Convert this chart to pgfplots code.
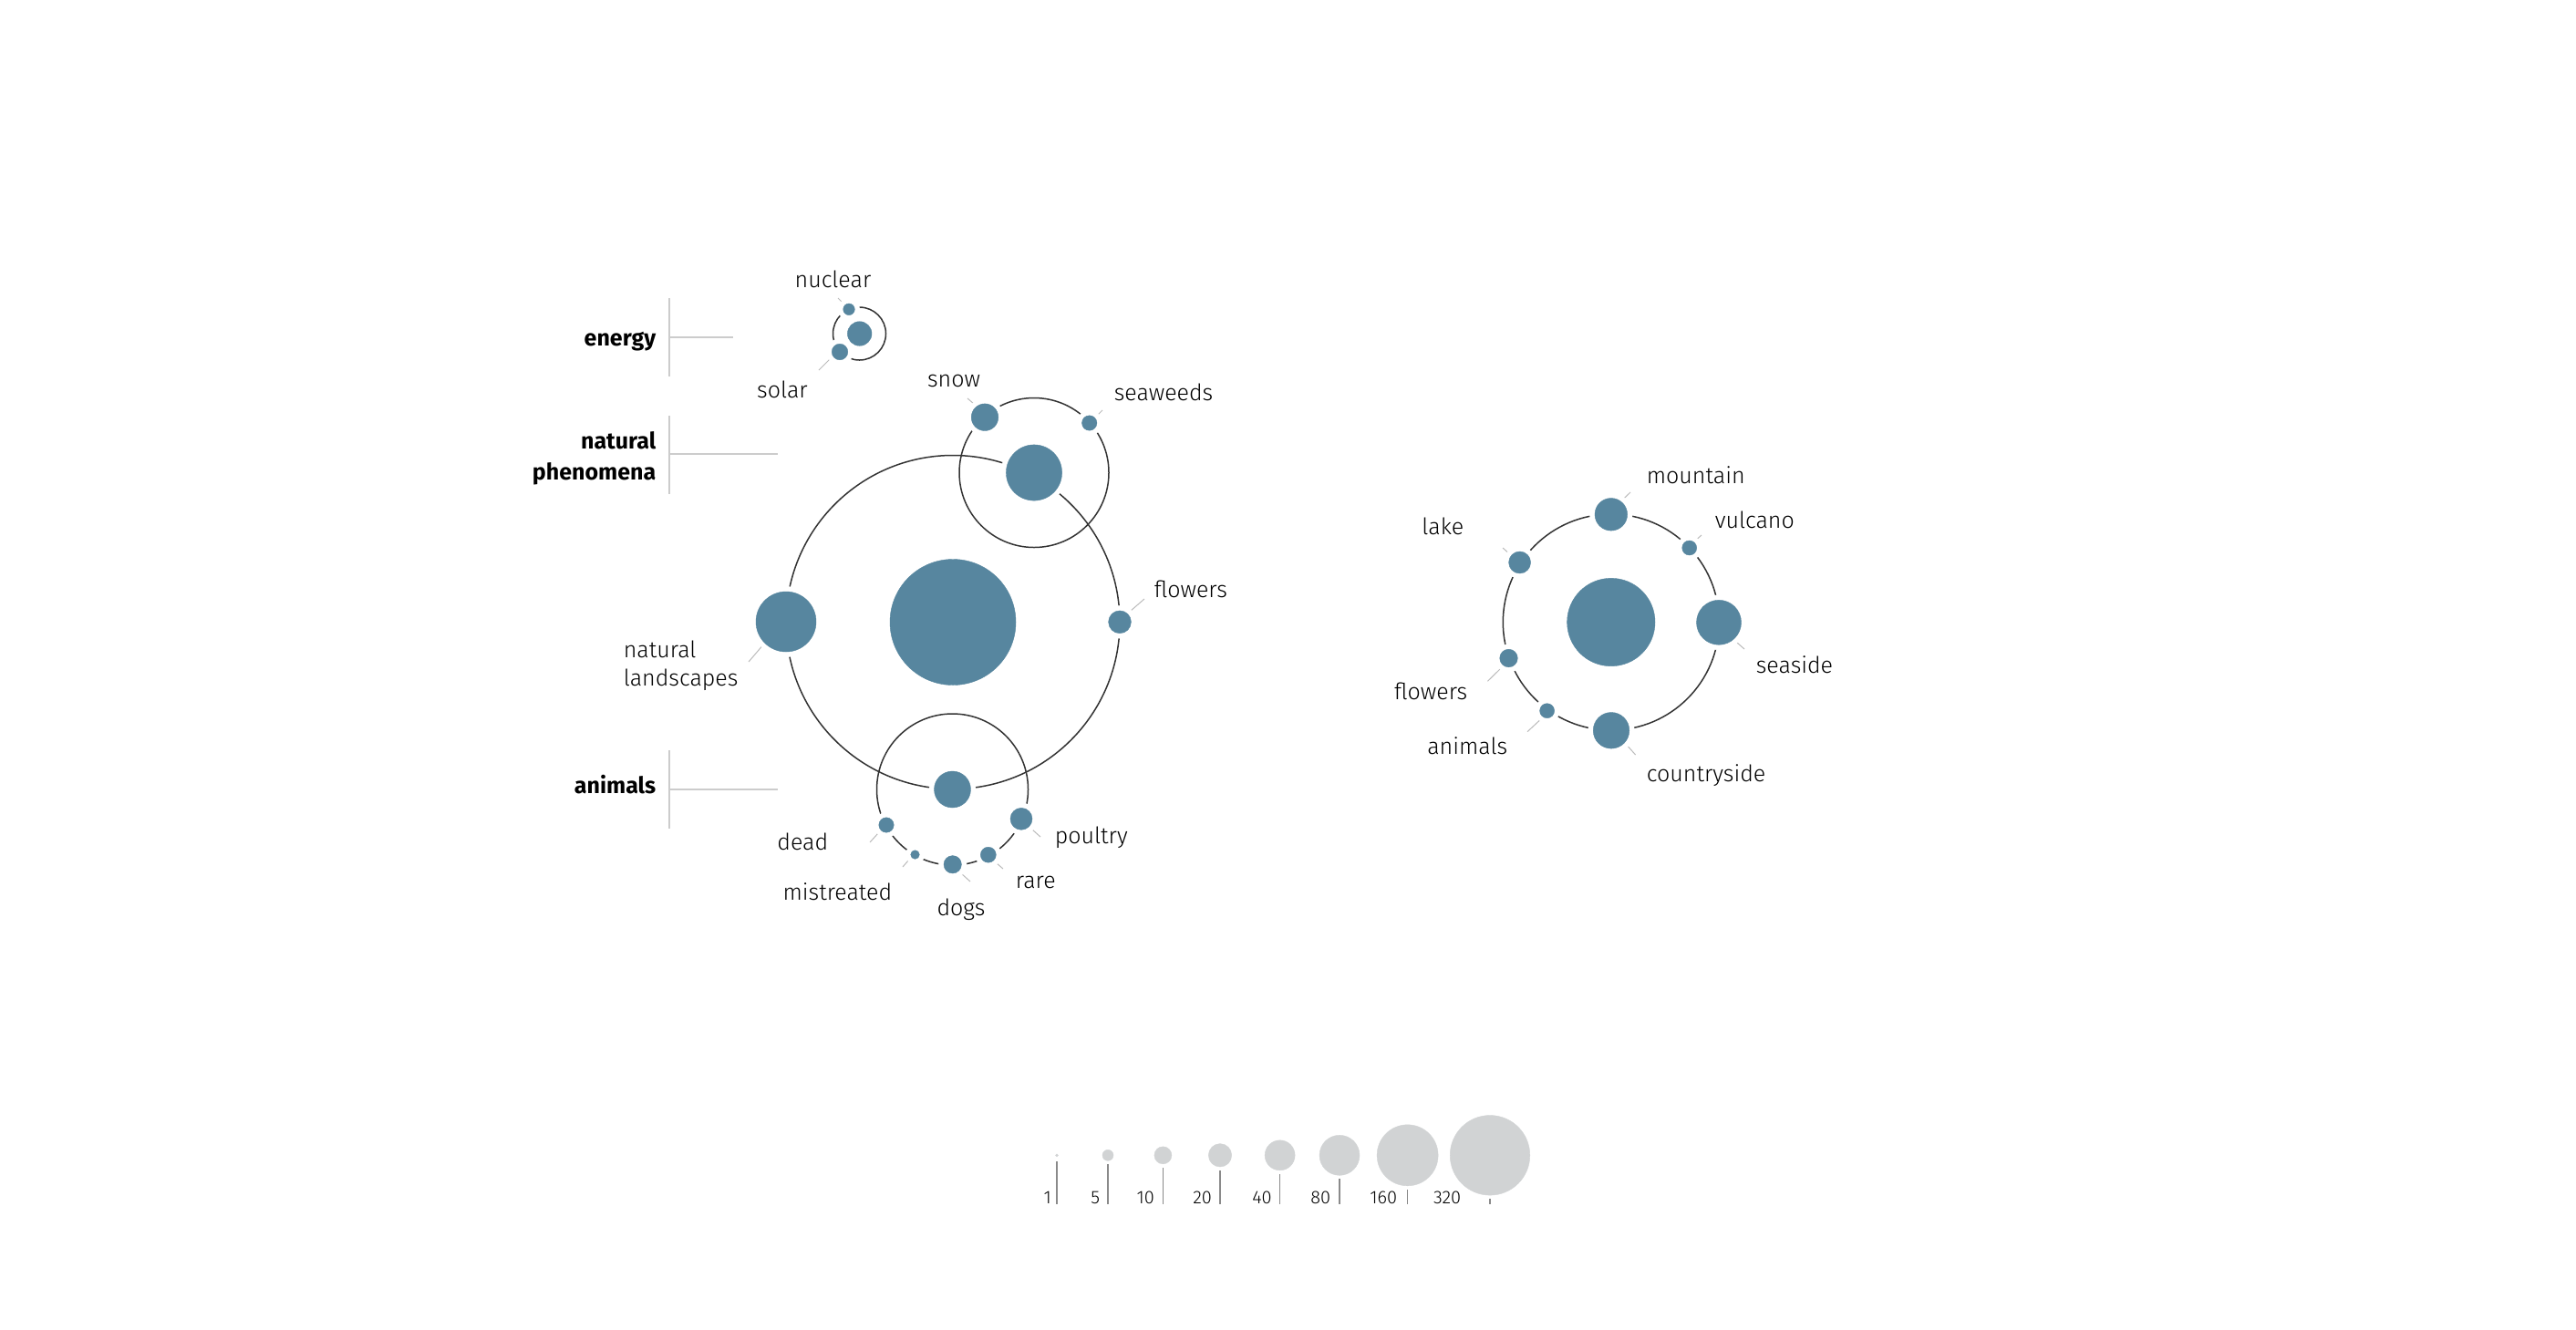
\documentclass[border=0pt]{standalone}
\usepackage{fontspec}
\setmainfont{Fira Sans}[UprightFont=* Light, BoldFont=* Bold]
\usepackage{pgfplots}
\usepackage{pgfplotstable}
\pgfplotsset{compat=1.18}
\definecolor{planet}{HTML}{57869F}
\definecolor{legc}{HTML}{D1D3D4}
\definecolor{orbitc}{HTML}{333333}
\definecolor{leadc}{HTML}{BBBBBB}
\definecolor{guidec}{HTML}{CCCCCC}
\definecolor{legline}{HTML}{8A8A8A}
\definecolor{txt}{HTML}{000000}

% orbits: centre and radius (px)
\pgfplotstableread{
x y r
942.5 366 29
1134 518.5 82
1045 682.5 183
1044.5 866 83
1766.8 682.5 118.5
}\orbits

% planets: centre and radius (px)
\pgfplotstableread{
x y r
942.7 366 13.3
931 339.3 6.3
921 386 8.8
1134 518.5 30.6
1080 457.7 14.8
1194.7 464 8.2
1045 682.5 69
862 682 33
1228 682.3 12.4
1044.5 866 20
1120 898.3 12
972 905 8.2
1003.5 937.5 4.8
1044.7 948.3 9.7
1083.8 937.7 8.5
1766.8 682.5 48.2
1766.8 564.3 17.8
1852.7 601 8
1885 682.8 24.5
1767 801.3 19.8
1696.6 779.7 8
1654.5 722 9.8
1666.6 617 12
}\planets

% size legend
\pgfplotstableread{
x y r
1159 1267.3 1.5
1215 1267.3 6
1275.4 1267.3 9.5
1338 1267.3 12.7
1403.6 1267.3 16.5
1469 1267.3 22
1543.6 1267.3 33.5
1634 1267.3 43.8
}\legendsizes

\tikzset{
  lab/.style={inner sep=0pt, text=txt, font=\fontsize{6.25}{7.5}\selectfont},
  blab/.style={inner sep=0pt, text=black, font=\fontsize{6.25}{7.5}\selectfont\bfseries},
  nlab/.style={inner sep=0pt, text=txt, font=\fontsize{5}{6}\selectfont},
}

\begin{document}
\begin{tikzpicture}
\begin{axis}[
  scale only axis,
  width=706.25pt, height=364.5pt,
  xmin=0, xmax=2825, ymin=0, ymax=1458,
  y dir=reverse,
  axis lines=box,
  axis line style={draw=none},
  xtick=\empty, ytick=\empty,
  clip=false,
]
% category guide lines
\addplot[guidec, line width=0.4pt, no marks, unbounded coords=jump] coordinates {
 (734,327) (734,413) (nan,nan) (734,370) (804,370) (nan,nan)
 (734,456) (734,542) (nan,nan) (734,498) (853,498) (nan,nan)
 (734,823) (734,909) (nan,nan) (734,866) (853,866)
};
% leader lines
\addplot[leadc, line width=0.25pt, no marks, unbounded coords=jump] coordinates {
 (919,327) (924,332) (nan,nan)
 (898,406) (910,394) (nan,nan)
 (1061,437) (1068,443) (nan,nan)
 (1209,450) (1204,455) (nan,nan)
 (821,726) (835.5,709) (nan,nan)
 (1240,670) (1255,657) (nan,nan)
 (954,924) (963,914) (nan,nan)
 (990,951) (996,944) (nan,nan)
 (1054,958) (1064,967) (nan,nan)
 (1093,947) (1100,953) (nan,nan)
 (1132,910) (1141,918) (nan,nan)
 (1781,546.7) (1788,540) (nan,nan)
 (1860.7,591.7) (1866,587) (nan,nan)
 (1905,705) (1913,712) (nan,nan)
 (1784.6,818) (1793.6,828) (nan,nan)
 (1688.6,790) (1675,802.7) (nan,nan)
 (1645.7,733.3) (1631.4,747.3) (nan,nan)
 (1653.6,606) (1648,601)
};
% legend tick lines
\addplot[legline, line width=0.3pt, no marks, unbounded coords=jump] coordinates {
 (1159,1274) (1159,1321) (nan,nan)
 (1215,1277) (1215,1321) (nan,nan)
 (1275.4,1281) (1275.4,1321) (nan,nan)
 (1338,1284) (1338,1321) (nan,nan)
 (1403.6,1288) (1403.6,1321) (nan,nan)
 (1469,1293) (1469,1321) (nan,nan)
 (1543.6,1305) (1543.6,1321) (nan,nan)
 (1634,1315) (1634,1321)
};
% orbits
\addplot[orbitc, scatter, only marks, mark=o,
  scatter/use mapped color={draw=orbitc, fill=none},
  mark options={line width=0.375pt},
  visualization depends on={0.25*\thisrow{r} \as \rad},
  scatter/@pre marker code/.append style={/tikz/mark size=\rad}]
  table[x=x, y=y] {\orbits};
% white halos
\addplot[white, scatter, only marks, mark=*,
  scatter/use mapped color={draw=white, fill=white},
  mark options={line width=0.1pt},
  visualization depends on={0.25*(\thisrow{r}+5.5) \as \rad},
  scatter/@pre marker code/.append style={/tikz/mark size=\rad}]
  table[x=x, y=y] {\planets};
% planets
\addplot[planet, scatter, only marks, mark=*,
  scatter/use mapped color={draw=planet, fill=planet},
  mark options={line width=0.1pt},
  visualization depends on={0.25*\thisrow{r} \as \rad},
  scatter/@pre marker code/.append style={/tikz/mark size=\rad}]
  table[x=x, y=y] {\planets};
% legend circles
\addplot[legc, scatter, only marks, mark=*,
  scatter/use mapped color={draw=legc, fill=legc},
  mark options={line width=0.1pt},
  visualization depends on={0.25*\thisrow{r} \as \rad},
  scatter/@pre marker code/.append style={/tikz/mark size=\rad}]
  table[x=x, y=y] {\legendsizes};

% category labels
\node[blab, anchor=base east] at (axis cs:720,379) {energy};
\node[blab, anchor=base east] at (axis cs:720,492.7) {natural};
\node[blab, anchor=base east] at (axis cs:720,526.7) {phenomena};
\node[blab, anchor=base east] at (axis cs:720,870.7) {animals};
% left group labels
\node[lab, anchor=base] at (axis cs:913.5,315.7) {nuclear};
\node[lab, anchor=base] at (axis cs:858,436) {solar};
\node[lab, anchor=base] at (axis cs:1046,424) {snow};
\node[lab, anchor=base west] at (axis cs:1221,439) {seaweeds};
\node[lab, anchor=base west] at (axis cs:683,721.7) {natural};
\node[lab, anchor=base west] at (axis cs:683,752.7) {landscapes};
\node[lab, anchor=base west] at (axis cs:1265,655) {flowers};
\node[lab, anchor=base east] at (axis cs:909,932.7) {dead};
\node[lab, anchor=base west] at (axis cs:1156,925) {poultry};
\node[lab, anchor=base east] at (axis cs:979,987.7) {mistreated};
\node[lab, anchor=base west] at (axis cs:1113,974) {rare};
\node[lab, anchor=base] at (axis cs:1054,1004.3) {dogs};
% right group labels
\node[lab, anchor=base west] at (axis cs:1805,530) {mountain};
\node[lab, anchor=base west] at (axis cs:1880,579) {vulcano};
\node[lab, anchor=base east] at (axis cs:1606,586.7) {lake};
\node[lab, anchor=base west] at (axis cs:1925,738.3) {seaside};
\node[lab, anchor=base east] at (axis cs:1610,767.7) {flowers};
\node[lab, anchor=base east] at (axis cs:1654,827.7) {animals};
\node[lab, anchor=base west] at (axis cs:1805,857.7) {countryside};
% legend numbers
\node[nlab, anchor=base east] at (axis cs:1153.7,1320.7) {1};
\node[nlab, anchor=base east] at (axis cs:1207,1320.7) {5};
\node[nlab, anchor=base east] at (axis cs:1266.6,1320.7) {10};
\node[nlab, anchor=base east] at (axis cs:1329.7,1320.7) {20};
\node[nlab, anchor=base east] at (axis cs:1395.5,1320.7) {40};
\node[nlab, anchor=base east] at (axis cs:1459.8,1320.7) {80};
\node[nlab, anchor=base east] at (axis cs:1533,1320.7) {160};
\node[nlab, anchor=base east] at (axis cs:1603,1320.7) {320};
\end{axis}
\end{tikzpicture}
\end{document}
